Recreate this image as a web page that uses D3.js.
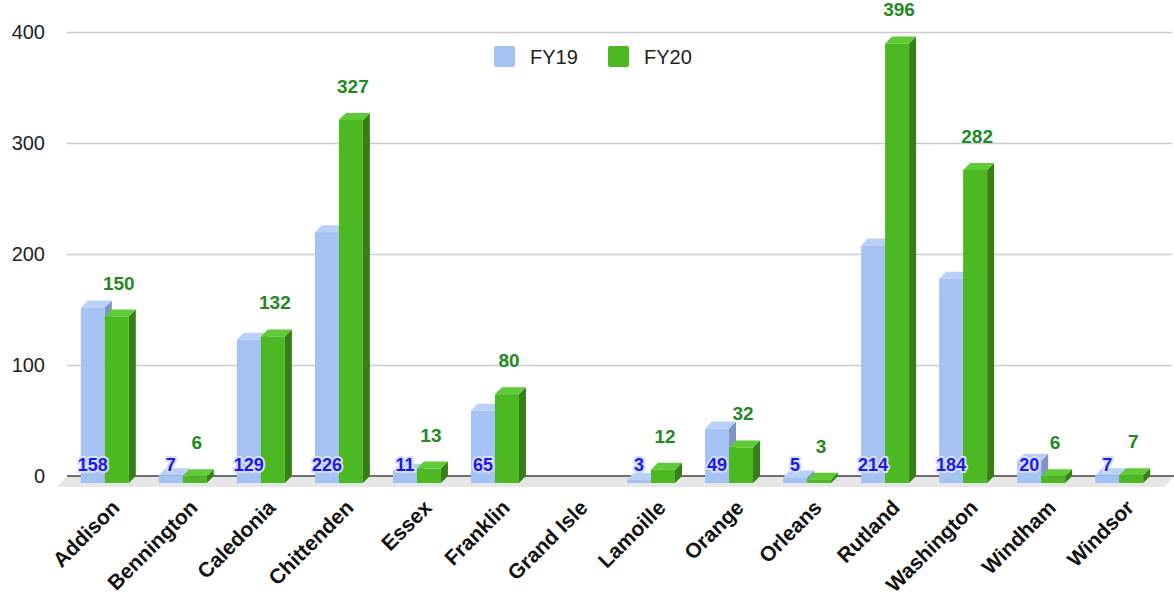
<!DOCTYPE html>
<html>
<head>
<meta charset="utf-8">
<script src="https://cdn.jsdelivr.net/npm/d3@7"></script>
<style>
  body { margin: 0; background: #fff; }
  text { font-family: "Liberation Sans", Arial, sans-serif; }
</style>
</head>
<body>
<div id="chart"></div>
<script>
/* Data */
const counties = ["Addison", "Bennington", "Caledonia", "Chittenden", "Essex", "Franklin", "Grand Isle",
  "Lamoille", "Orange", "Orleans", "Rutland", "Washington", "Windham", "Windsor"];
const fy19 = [158, 7, 129, 226, 11, 65, null, 3, 49, 5, 214, 184, 20, 7];
const fy20 = [150, 6, 132, 327, 13, 80, null, 12, 32, 3, 396, 282, 6, 7];
const seriesNames = ["FY19", "FY20"];
const yTicks = [0, 100, 200, 300, 400];

const width = 1174, height = 596;
const dx = 7, dy = 7; // 3d depth offset

const svg = d3.select("#chart").append("svg")
  .attr("width", width)
  .attr("height", height);

// back plane scale
const y = d3.scaleLinear().domain([0, 400]).range([476, 32]);
const x = d3.scaleBand().domain(counties).range([66, 1158]).paddingInner(0.385).paddingOuter(0.19);
const xs = d3.scaleBand().domain(seriesNames).range([0, x.bandwidth()]);

const colors = {
  FY19: { front: "#a4c2f4", top: "#b9d0f8", side: "#7f95bf", label: "#1a1aee" },
  FY20: { front: "#4cb822", top: "#5fcb36", side: "#357f17", label: "#1f8a1f" }
};

/* Grid + y axis */
const yAxis = svg.append("g")
  .attr("transform", "translate(67,0)")
  .call(d3.axisLeft(y).tickValues(yTicks).tickSize(-(1172 - 67)).tickPadding(22));
yAxis.select(".domain").remove();
yAxis.selectAll("line").attr("stroke", "#cccccc").attr("stroke-width", 1.3);
yAxis.selectAll("text").attr("font-size", "20px").attr("fill", "#222");

/* Floor */
svg.append("path")
  .attr("d", `M67,${y(0)} L1174,${y(0)} L1164,${y(0) + 11} L57,${y(0) + 11} Z`)
  .attr("fill", "#e6e6e6");
svg.append("line")
  .attr("x1", 67).attr("x2", 1174)
  .attr("y1", y(0)).attr("y2", y(0))
  .attr("stroke", "#444").attr("stroke-width", 1.5);

/* Bars */
const data = [];
counties.forEach((c, i) => {
  seriesNames.forEach(s => {
    const v = (s === "FY19" ? fy19 : fy20)[i];
    if (v != null) data.push({ county: c, series: s, value: v });
  });
});

const bars = svg.selectAll(".bar")
  .data(data)
  .enter()
  .append("g")
  .attr("class", "bar");

bars.each(function (d) {
  const g = d3.select(this);
  const x0 = x(d.county) + xs(d.series);
  const x1 = x0 + xs.bandwidth();
  const yb = y(0) + dy;
  const yt = y(d.value) + dy;
  const c = colors[d.series];
  g.append("path")
    .attr("d", `M${x1},${yt} L${x1 + dx},${yt - dy} L${x1 + dx},${yb - dy} L${x1},${yb} Z`)
    .attr("fill", c.side);
  g.append("path")
    .attr("d", `M${x0},${yt} L${x0 + dx},${yt - dy} L${x1 + dx},${yt - dy} L${x1},${yt} Z`)
    .attr("fill", c.top);
  g.append("rect")
    .attr("x", x0)
    .attr("y", yt)
    .attr("width", x1 - x0)
    .attr("height", yb - yt)
    .attr("fill", c.front);
});

/* Value labels */
svg.selectAll(".lbl19")
  .data(data.filter(d => d.series === "FY19"))
  .enter()
  .append("text")
  .attr("x", d => x(d.county) + xs("FY19") + xs.bandwidth() / 2)
  .attr("y", y(0) - 5)
  .attr("text-anchor", "middle")
  .attr("font-size", "18px")
  .attr("font-weight", "bold")
  .attr("fill", colors.FY19.label)
  .attr("stroke", "#d6deff")
  .attr("stroke-width", 4)
  .attr("stroke-linejoin", "round")
  .attr("paint-order", "stroke")
  .text(d => d.value);

svg.selectAll(".lbl20")
  .data(data.filter(d => d.series === "FY20"))
  .enter()
  .append("text")
  .attr("x", d => x(d.county) + xs("FY20") + xs.bandwidth() / 2 + 2)
  .attr("y", d => y(d.value) - 20)
  .attr("text-anchor", "middle")
  .attr("font-size", "19px")
  .attr("font-weight", "bold")
  .attr("fill", colors.FY20.label)
  .text(d => d.value);

/* Category labels */
svg.selectAll(".cat")
  .data(counties)
  .enter()
  .append("text")
  .attr("transform", d => `translate(${x(d) + x.bandwidth() / 2 + 16},${509}) rotate(-45)`)
  .attr("text-anchor", "end")
  .attr("font-size", "21px")
  .attr("font-weight", "bold")
  .attr("fill", "#111")
  .text(d => d);

/* Legend */
const legend = svg.append("g");
const legendX = [494, 608];
seriesNames.forEach((s, i) => {
  legend.append("rect")
    .attr("x", legendX[i]).attr("y", 46)
    .attr("width", 21).attr("height", 21)
    .attr("rx", 2)
    .attr("fill", colors[s].front);
  legend.append("text")
    .attr("x", legendX[i] + 36).attr("y", 64)
    .attr("font-size", "20px")
    .attr("fill", "#222")
    .text(s);
});
</script>
</body>
</html>
